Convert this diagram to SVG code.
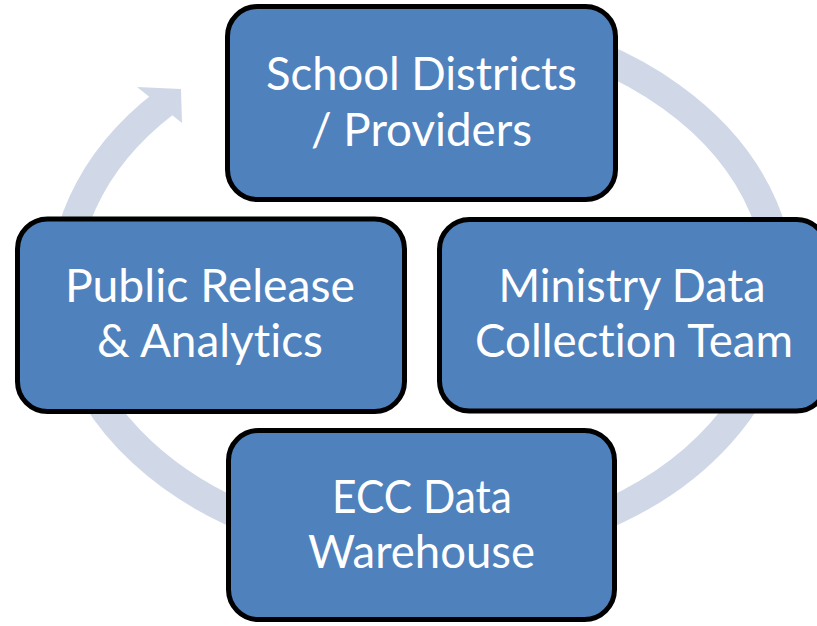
<svg xmlns="http://www.w3.org/2000/svg" width="817" height="626" viewBox="0 0 817 626">
<style>
.box{fill:#4F81BD;stroke:#000;stroke-width:5}
.lbl{fill:#fff;font-family:Lato,"Liberation Sans",sans-serif;font-size:46px;text-anchor:middle;font-variant-ligatures:none;font-feature-settings:"liga" 0}
.ring{fill:none;stroke:#D0D8E8;stroke-width:29}
</style>
<rect width="817" height="626" fill="#fff"/>
<g id="connectors">
<path class="ring" d="M 360,26 A 358 265 0 1 1 164.5,102.9"/>
<polygon points="137,87 181,89 182,123" fill="#D0D8E8"/>
</g>
<g id="school-districts">
<rect class="box" x="227.5" y="6.5" width="388" height="193" rx="30"/>
<text class="lbl" x="421.5" y="90" textLength="311" lengthAdjust="spacingAndGlyphs">School Districts</text>
<text class="lbl" x="421.5" y="146" textLength="221" lengthAdjust="spacingAndGlyphs">/ Providers</text>
</g>
<g id="public-release">
<rect class="box" x="17.5" y="219" width="387" height="192.5" rx="30"/>
<text class="lbl" x="210" y="302" textLength="290" lengthAdjust="spacingAndGlyphs">Public Release</text>
<text class="lbl" x="210" y="357" textLength="226" lengthAdjust="spacingAndGlyphs">&amp; Analytics</text>
</g>
<g id="ministry">
<rect class="box" x="439.5" y="219.5" width="387" height="191.5" rx="30"/>
<text class="lbl" x="632" y="302" textLength="267" lengthAdjust="spacingAndGlyphs">Ministry Data</text>
<text class="lbl" x="634" y="357" textLength="318" lengthAdjust="spacingAndGlyphs">Collection Team</text>
</g>
<g id="ecc-warehouse">
<rect class="box" x="228.5" y="430.5" width="386" height="189" rx="30"/>
<text class="lbl" x="422" y="513" textLength="180" lengthAdjust="spacingAndGlyphs">ECC Data</text>
<text class="lbl" x="421.5" y="568" textLength="227" lengthAdjust="spacingAndGlyphs">Warehouse</text>
</g>
</svg>
